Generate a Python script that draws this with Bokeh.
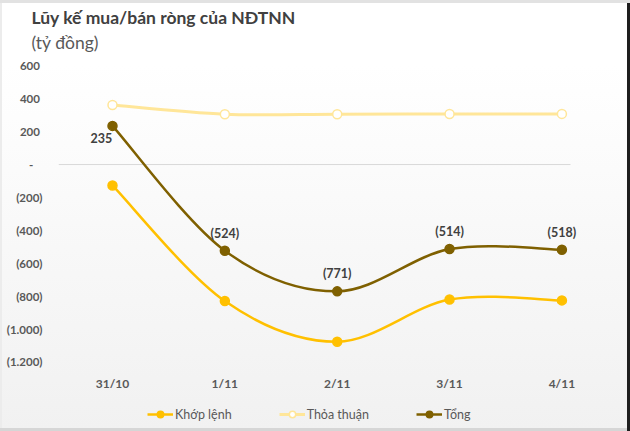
from bokeh.plotting import figure
from bokeh.models import (Range1d, FixedTicker, Title, LabelSet, ColumnDataSource,
                          Legend, LegendItem, LinearAxis)
from bokeh.core.properties import value
from bokeh.embed import file_html
from bokeh.resources import INLINE

# ---- data ----
categories = ["31/10", "1/11", "2/11", "3/11", "4/11"]
khop_lenh = [-127, -830, -1077, -821, -826]
thoa_thuan = [362, 306, 306, 307, 308]
tong = [235, -524, -771, -514, -518]
y_ticks = [-1200, -1000, -800, -600, -400, -200, 0, 200, 400, 600]
y_tick_labels = ["(1.200)", "(1.000)", "(800)", "(600)", "(400)", "(200)",
                 "-\u2007\u2008", "200\u2008", "400\u2008", "600\u2008"]
title_text = "Lũy kế mua/bán ròng của NĐTNN"
subtitle_text = "(tỷ đồng)"

FONT = "Lato"
C_KHOP = "#FFC000"
C_THOA = "#FFE699"
C_TONG = "#7F6000"

xs = list(range(len(categories)))
X_START, X_END = -0.4806, 4.3436
ZERO_LINE_END = 4.0765

bg = "linear-gradient(to bottom, #ffffff 0%, #ffffff 15%, #f1f1f1 100%)"
shadow = "inset 0 3px 0 #e2e2e2, inset -3px 0 0 #1e1e1e, inset 0 -3px 0 #d6d6d6, inset 2px 0 0 #ececec"

p = figure(width=630, height=431, output_backend="svg", toolbar_location=None,
           x_range=Range1d(X_START, X_END), y_range=Range1d(-1623, 669),
           min_border_left=58, min_border_right=30, min_border_top=54, min_border_bottom=0,
           x_axis_location=None,
           styles={"background": bg, "box-shadow": shadow})
p.border_fill_color = None
p.background_fill_color = None
p.outline_line_color = None
p.xgrid.visible = False
p.ygrid.visible = False

# zero line
p.segment(x0=[X_START], x1=[ZERO_LINE_END], y0=[0], y1=[0], line_color="#d9d9d9", line_width=1)


def smooth_segments(x, y):
    n = len(x)
    out = dict(x0=[], y0=[], x1=[], y1=[], cx0=[], cy0=[], cx1=[], cy1=[])
    for i in range(n - 1):
        a = i - 1 if i > 0 else i
        b = i + 2 if i + 2 < n else i + 1
        out["x0"].append(x[i]); out["y0"].append(y[i])
        out["x1"].append(x[i + 1]); out["y1"].append(y[i + 1])
        out["cx0"].append(x[i] + (x[i + 1] - x[a]) / 6.0)
        out["cy0"].append(y[i] + (y[i + 1] - y[a]) / 6.0)
        out["cx1"].append(x[i + 1] - (x[b] - x[i]) / 6.0)
        out["cy1"].append(y[i + 1] - (y[b] - y[i]) / 6.0)
    return ColumnDataSource(out)


items = []
for name, vals, col, fill, lw in [("Khớp lệnh", khop_lenh, C_KHOP, C_KHOP, 2.5),
                                  ("Thỏa thuận", thoa_thuan, C_THOA, "#ffffff", 3),
                                  ("Tổng", tong, C_TONG, C_TONG, 2.5)]:
    src = smooth_segments(xs, vals)
    bz = p.bezier(x0="x0", y0="y0", x1="x1", y1="y1", cx0="cx0", cy0="cy0", cx1="cx1", cy1="cy1",
                  source=src, line_color=col, line_width=lw)
    sc = p.scatter(xs, vals, size=9, marker="circle", fill_color=fill, line_color=col, line_width=1.5)
    items.append(LegendItem(label=name, renderers=[bz, sc]))

# data labels for total
lab_src = ColumnDataSource(dict(
    x=xs, y=tong,
    text=[("(%d)" % -v) if v < 0 else ("%d" % v) for v in tong],
    dx=[-11 if i == 0 else 0 for i in xs],
    dy=[-12 if i == 0 else 17.5 for i in xs],
))
p.add_layout(LabelSet(x="x", y="y", text="text", x_offset="dx", y_offset="dy", source=lab_src,
                      text_font=value(FONT), text_font_style="bold", text_font_size="12.5px",
                      text_color="#404040", text_align="center", text_baseline="middle"))

# x axis drawn inside the frame at the bottom of the value area
xaxis = LinearAxis(fixed_location=-1270)
p.add_layout(xaxis, "below")
xaxis.ticker = FixedTicker(ticks=xs)
xaxis.major_label_overrides = {i: c for i, c in zip(xs, categories)}
xaxis.axis_line_color = None
xaxis.major_tick_line_color = None
xaxis.minor_tick_line_color = None
xaxis.major_tick_out = 0
xaxis.major_tick_in = 0
xaxis.major_label_standoff = 3
xaxis.major_label_text_font = FONT
xaxis.major_label_text_font_style = "bold"
xaxis.major_label_text_font_size = "12px"
xaxis.major_label_text_color = "#595959"

p.yaxis.ticker = FixedTicker(ticks=y_ticks)
p.yaxis.major_label_overrides = {t: l for t, l in zip(y_ticks, y_tick_labels)}
p.yaxis.axis_line_color = None
p.yaxis.major_tick_line_color = None
p.yaxis.minor_tick_line_color = None
p.yaxis.major_tick_out = 0
p.yaxis.major_label_standoff = 16
p.yaxis.major_label_text_font = FONT
p.yaxis.major_label_text_font_style = "bold"
p.yaxis.major_label_text_font_size = "11.5px"
p.yaxis.major_label_text_color = "#595959"

# titles
p.add_layout(Title(text=subtitle_text, align="left", offset=-27, standoff=4,
                   text_font=FONT, text_font_size="17.5px", text_font_style="normal",
                   text_color="#595959"), "above")
p.add_layout(Title(text=title_text, align="left", offset=-27, standoff=0,
                   text_font=FONT, text_font_size="17.5px", text_font_style="bold",
                   text_color="#404040"), "above")

legend = Legend(items=items, orientation="horizontal", location=(89, 9),
                padding=0, margin=0, spacing=47, glyph_width=26, glyph_height=16,
                label_height=16, label_standoff=2,
                label_text_font=FONT, label_text_font_size="12.5px", label_text_color="#595959",
                background_fill_alpha=0, border_line_color=None)
p.add_layout(legend)

open("out.html", "w").write(file_html(p, INLINE))
